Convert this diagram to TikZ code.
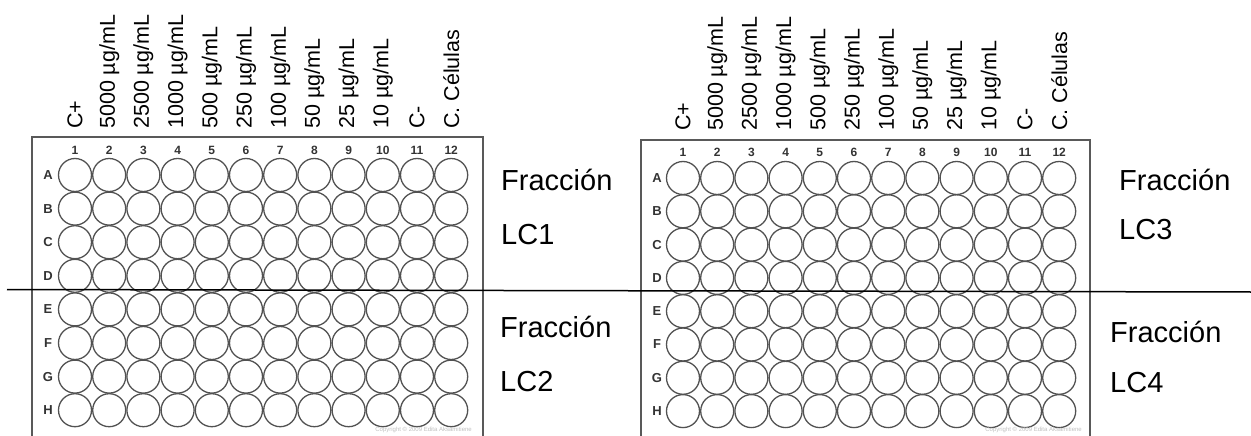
\documentclass[tikz,border=0pt]{standalone}
\usepackage{fontspec}
\setmainfont{Liberation Sans}
\begin{document}
\begin{tikzpicture}[x=1pt,y=-1pt,
  well/.style={circle,draw=black!68,line width=1.3pt,minimum size=33pt,inner sep=0pt},
  colnum/.style={font=\fontsize{12}{12}\selectfont\bfseries,text=black!80,inner sep=0pt},
  rowlet/.style={font=\fontsize{13}{13}\selectfont\bfseries,text=black!80,inner sep=0pt},
  conc/.style={rotate=90,anchor=west,font=\fontsize{21.5}{21.5}\selectfont,inner sep=0pt},
  frac/.style={anchor=west,font=\fontsize{29}{29}\selectfont,inner sep=0pt},
  plate/.style={draw=black!65,line width=1.3pt},
  copy/.style={font=\fontsize{6}{6}\selectfont,text=black!25,inner sep=0pt,anchor=east}]
\useasboundingbox (0,0) rectangle (1251,436);
\clip (0,0) rectangle (1251,436);
% plate frames
\draw[plate] (32,440) -- (32,137) -- (483,137) -- (483,440);
\draw[plate] (641,440) -- (641,140) -- (1090,140) -- (1090,440);
% wells
\foreach \r [count=\j] in {A,B,C,D,E,F,G,H}{
  \node[rowlet] (L-\r) at (48,{175+33.6*(\j-1)}) {\r};
  \node[rowlet] (R-\r) at (657,{178+33.3*(\j-1)}) {\r};
  \foreach \c in {1,...,12}{
    \node[well] (L-\r\c) at ({75+34.2*(\c-1)},{175+33.6*(\j-1)}) {};
    \node[well] (R-\r\c) at ({683+34.2*(\c-1)},{178+33.3*(\j-1)}) {};
  }
}
% column numbers and concentration labels
\foreach \t [count=\c] in {C+,5000 µg/mL,2500 µg/mL,1000 µg/mL,500 µg/mL,250 µg/mL,100 µg/mL,50 µg/mL,25 µg/mL,10 µg/mL,C-,C. Células}{
  \node[colnum] (LN\c) at ({75+34.2*(\c-1)},150) {\c};
  \node[colnum] (RN\c) at ({683+34.2*(\c-1)},152) {\c};
  \node[conc] (LT\c) at ({75+34.2*(\c-1)},129) {\t};
  \node[conc] (RT\c) at ({683+34.2*(\c-1)},131) {\t};
}
% copyright
\node[copy] (Lcopy) at (472,430) {Copyright © 2009 Edita Aksamitiene};
\node[copy] (Rcopy) at (1082,430) {Copyright © 2009 Edita Aksamitiene};
% fraction labels
\node[frac] (f1) at (501,180) {Fracción};
\node[frac] (l1) at (501,235) {LC1};
\node[frac] (f2) at (500,327) {Fracción};
\node[frac] (l2) at (500,382) {LC2};
\node[frac] (f3) at (1119,180) {Fracción};
\node[frac] (l3) at (1119,230) {LC3};
\node[frac] (f4) at (1110,332) {Fracción};
\node[frac] (l4) at (1110,383) {LC4};
% dividing line
\coordinate (hl) at (7,289.5);
\coordinate (hr) at (1251,292);
\draw[line width=1.5pt] (hl) -- (hr);
\end{tikzpicture}
\end{document}
